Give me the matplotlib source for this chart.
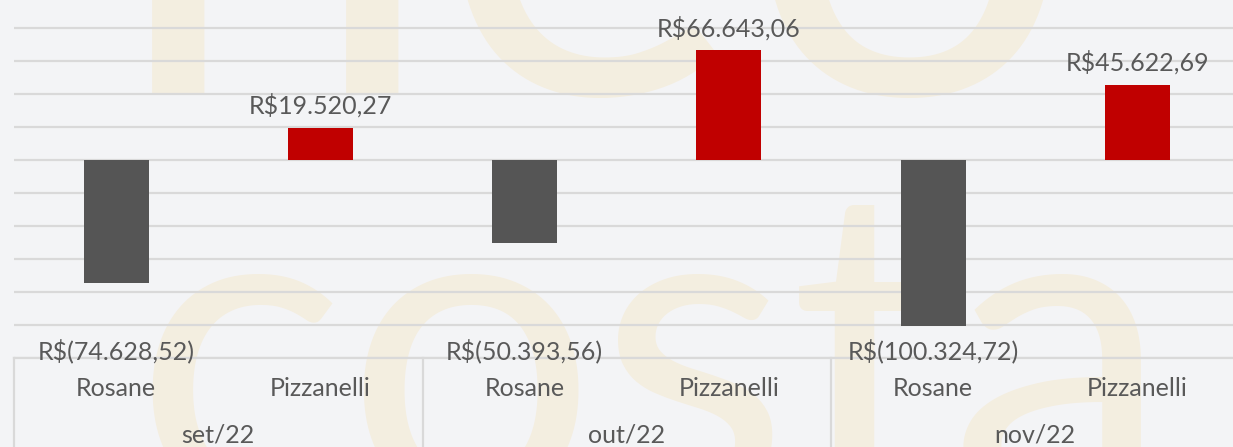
import matplotlib
matplotlib.use('Agg')
from matplotlib import pyplot as plt
from matplotlib import transforms
import numpy as np

# data
months = ['set/22', 'out/22', 'nov/22']
people = ['Rosane', 'Pizzanelli']
rosane = [-74628.52, -50393.56, -100324.72]
pizzanelli = [19520.27, 66643.06, 45622.69]

def brl(v):
    s = '{:,.2f}'.format(abs(v)).replace(',', 'X').replace('.', ',').replace('X', '.')
    return 'R$({})'.format(s) if v < 0 else 'R${}'.format(s)

plt.rcParams['font.family'] = ['Lato', 'DejaVu Sans']
txt_color = '#595959'
bg = '#F3F4F6'

fig = plt.figure(figsize=(12.33, 4.47), dpi=100, facecolor=bg)

# watermark, behind everything
fig.text(0.108, -0.125, 'costa', fontsize=320, color='#F3EEE0', zorder=-5,
         ha='left', va='baseline')
fig.text(0.09, 0.79, 'neo', fontsize=420, color='#F3EEE0', zorder=-5,
         ha='left', va='baseline')

ax = fig.add_axes([14 / 1233, 89 / 447, 1225.5 / 1233, 363 / 447])
ax.set_facecolor('none')
ax.set_zorder(1)

x_pos = np.arange(len(months) * 2)
vals = []
for r, p in zip(rosane, pizzanelli):
    vals += [r, p]
colors = ['#555555', '#C00000'] * len(months)

ax.bar(x_pos, vals, width=0.318, color=colors, zorder=3)
ax.set_xlim(-0.5, len(x_pos) - 0.5)
ax.set_ylim(-120000, 100000)
ax.set_yticks(np.arange(-120000, 100001, 20000))
ax.yaxis.grid(True, color='#D9D9D9', linewidth=1.6, zorder=1)
ax.tick_params(left=False, labelleft=False, bottom=False, labelbottom=False)
for s in ['top', 'right', 'left']:
    ax.spines[s].set_visible(False)
ax.spines['bottom'].set_color('#D9D9D9')
ax.spines['bottom'].set_linewidth(1.6)

# data labels
for x, v in zip(x_pos, vals):
    if v >= 0:
        ax.annotate(brl(v), (x, v), xytext=(0, 7), textcoords='offset points',
                    ha='center', va='bottom', fontsize=18, color=txt_color)
    else:
        ax.text(x, -116000, brl(v), ha='center', va='center',
                fontsize=18, color=txt_color)

# multi-level category axis
trans = transforms.blended_transform_factory(ax.transData, ax.transAxes)
for i, m in enumerate(months):
    for j, p in enumerate(people):
        ax.text(i * 2 + j, -0.083, p, transform=trans, ha='center', va='center',
                fontsize=18, color=txt_color, clip_on=False)
    ax.text(i * 2 + 0.5, -0.212, m, transform=trans, ha='center', va='center',
            fontsize=18, color=txt_color, clip_on=False)
    ax.plot([i * 2 - 0.5, i * 2 - 0.5], [0, -0.3], transform=trans,
            color='#D9D9D9', linewidth=1.6, clip_on=False)

fig.savefig('out.png', dpi=100, facecolor=bg)
